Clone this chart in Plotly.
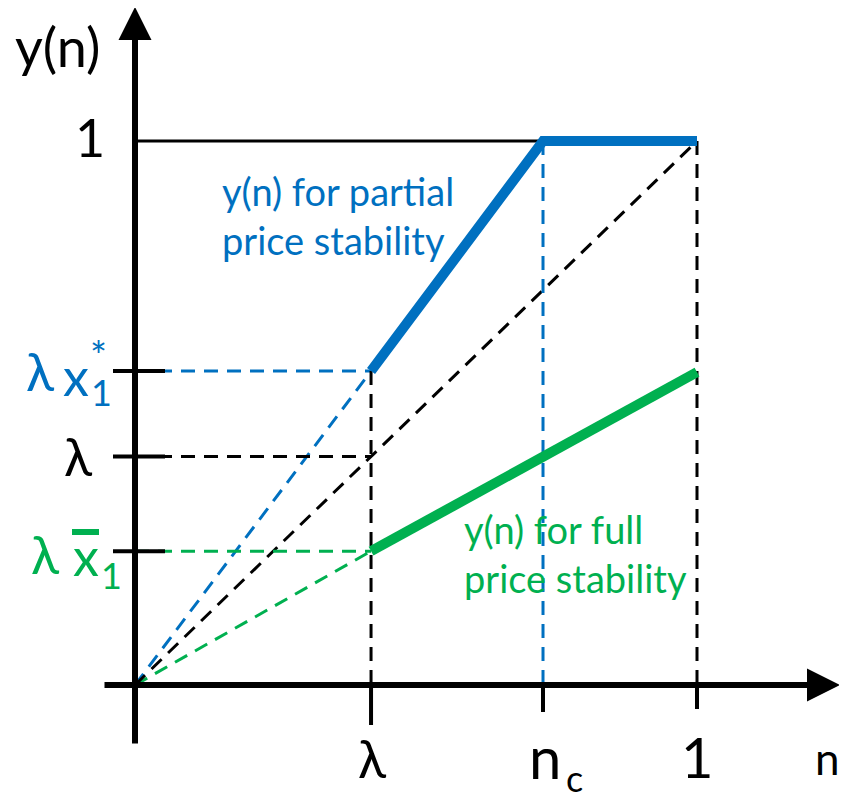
import plotly.graph_objects as go

# key points of the diagram (data units, 0..1 on both axes)
lam = 0.42
n_c = 0.726
lam_x1_star = 0.577
lam_x1_bar = 0.246
full_end = 0.575

partial_x = [lam, n_c, 1]
partial_y = [lam_x1_star, 1, 1]
full_x = [lam, 1]
full_y = [lam_x1_bar, full_end]
diag_x = [0, 1]
diag_y = [0, 1]

BLUE = "#0070C0"
GREEN = "#00B050"
BLACK = "#000000"
FONT = "Lato"

# the page body has an 8px margin
PAD = 8
W, H = 847 - PAD, 792 - PAD
# page pixel position of origin and size of one unit
OX, OY = 135, 685
SX, SY = 562, 544


def px(xp, yp):
    # page pixel -> data coords
    return (xp - OX) / SX, (OY - yp) / SY


fig = go.Figure()


def line(xs, ys, color, width, dash="solid"):
    fig.add_trace(go.Scatter(x=xs, y=ys, mode="lines",
                             line=dict(color=color, width=width, dash=dash),
                             hoverinfo="skip"))


DASH = "14px,9px"

# rays from origin
line([0, lam], [0, lam_x1_star], BLUE, 3, DASH)
line([0, lam], [0, lam_x1_bar], GREEN, 3, DASH)
line(diag_x, diag_y, BLACK, 3, DASH)

# horizontal guides to the y axis
line([0, lam], [lam_x1_star, lam_x1_star], BLUE, 3, DASH)
line([0, lam], [lam, lam], BLACK, 3, DASH)
line([0, lam], [lam_x1_bar, lam_x1_bar], GREEN, 3, DASH)

# vertical guides down to the x axis
line([lam, lam], [lam_x1_star, 0], BLACK, 3, DASH)
line([n_c, n_c], [1, 0], BLUE, 3, DASH)
line([1, 1], [1, 0], BLACK, 3, DASH)

# level y = 1
line([0, 1], [1, 1], BLACK, 3)

# small tick marks on the y axis
for v in [lam_x1_star, lam, lam_x1_bar]:
    line([px(113, 0)[0], px(165, 0)[0]], [v, v], BLACK, 4)
# tick marks below the x axis
for v, yp in [(lam, 725), (n_c, 712), (1, 709)]:
    line([v, v], [0, px(0, yp)[1]], BLACK, 4)

# the two y(n) curves
line(partial_x, partial_y, BLUE, 10)
line(full_x, full_y, GREEN, 10)

# axes with arrows
x0, y0 = px(103, 0)
x1, _ = px(840, 0)
_, yb = px(0, 745)
_, yt = px(0, 7)
fig.add_annotation(x=x1, y=0, ax=x0, ay=0, xref="x", yref="y", axref="x", ayref="y",
                   text="", showarrow=True, arrowhead=2, arrowwidth=6, arrowsize=1.1,
                   arrowcolor=BLACK, standoff=0)
fig.add_annotation(x=0, y=yt, ax=0, ay=yb, xref="x", yref="y", axref="x", ayref="y",
                   text="", showarrow=True, arrowhead=2, arrowwidth=6, arrowsize=1.1,
                   arrowcolor=BLACK, standoff=0)


def label(xp, yp, text, size, color=BLACK, xanchor="center", yanchor="middle", align="center"):
    x, y = px(xp, yp)
    fig.add_annotation(x=x, y=y, text=text, showarrow=False, xanchor=xanchor, yanchor=yanchor,
                       align=align, font=dict(family=FONT, size=size, color=color))


# axis labels
label(57, 46, "y(n)", 54)
label(90, 137, "1", 52)
label(827, 758, "n", 44)
label(372, 758, "λ", 52)
label(545, 756, "n", 58)
label(574, 778, "c", 36)
label(697, 756, "1", 56)

# y axis tick labels
label(40, 371, "λ", 52, BLUE)
label(76, 376, "x", 52, BLUE)
label(98, 356, "*", 40, BLUE)
label(101, 392, "1", 36, BLUE)

label(78, 456, "λ", 52)

label(45, 554, "λ", 52, GREEN)
label(86, 556, "x", 52, GREEN)
label(111, 575, "1", 36, GREEN)
# bar over the x
bx0, by = px(72, 532)
bx1, _ = px(99, 532)
fig.add_shape(type="line", x0=bx0, x1=bx1, y0=by, y1=by,
              line=dict(color=GREEN, width=6))

# curve captions
label(220, 215, "y(n) for partial<br>price stability", 38, BLUE, xanchor="left", align="left")
label(462, 553, "y(n) for full<br>price stability", 38, GREEN, xanchor="left", align="left")

xr0, _ = px(PAD, 0)
xr1, _ = px(PAD + W, 0)
_, yr0 = px(0, PAD + H)
_, yr1 = px(0, PAD)

fig.update_layout(
    width=W, height=H,
    margin=dict(l=0, r=0, t=0, b=0),
    paper_bgcolor="white", plot_bgcolor="white",
    showlegend=False,
    xaxis=dict(range=[xr0, xr1], visible=False, fixedrange=True),
    yaxis=dict(range=[yr0, yr1], visible=False, fixedrange=True),
)

fig.write_html("out.html")
